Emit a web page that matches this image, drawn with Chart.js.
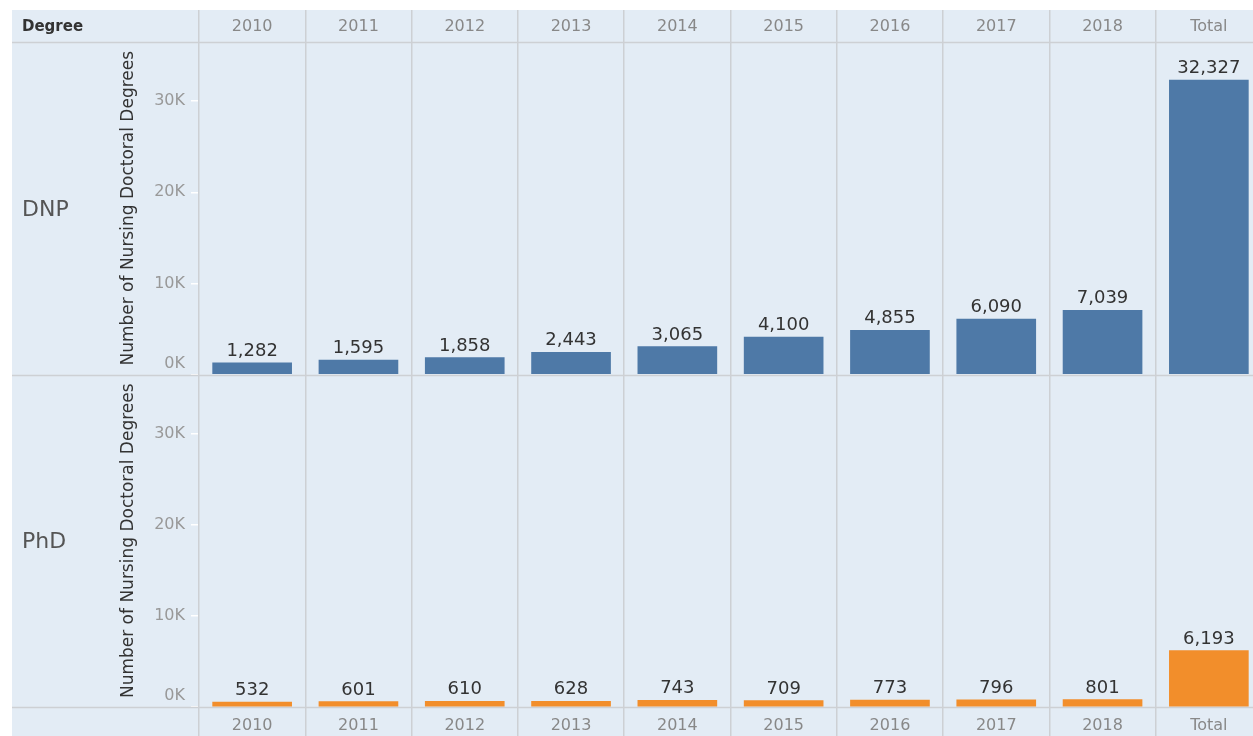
<!DOCTYPE html>
<html><head><meta charset="utf-8">
<script src="https://cdn.jsdelivr.net/npm/chart.js@4.4.1/dist/chart.umd.min.js"></script>
<style>html,body{margin:0;padding:0;background:#fff;overflow:hidden;}#wrap{width:1262px;height:736px;}</style>
</head><body><div id="wrap"><canvas id="c" width="1262" height="736"></canvas></div>
<script>
const categories = ['2010','2011','2012','2013','2014','2015','2016','2017','2018','Total'];
const dnpValues = [1282,1595,1858,2443,3065,4100,4855,6090,7039,32327];
const phdValues = [532,601,610,628,743,709,773,796,801,6193];
const rowLabels = ['DNP','PhD'];
const yTickValues = [0,10000,20000,30000];
const yMax = 36500;
const headerLabel = 'Degree';
const axisTitle = 'Number of Nursing Doctoral Degrees';

const BG = '#e3ecf5';
const LINE = '#cdd0d4';
const FONT = 'DejaVu Sans';
Chart.defaults.font.family = FONT;

const frame = {
  id: 'frame',
  beforeDraw(chart) {
    const ctx = chart.ctx;
    ctx.save();
    ctx.fillStyle = '#fff';
    ctx.fillRect(0, 0, chart.width, chart.height);
    ctx.fillStyle = BG;
    ctx.fillRect(12, 10, chart.width - 12, chart.height - 10);
    ctx.restore();
  },
  beforeDatasetsDraw(chart) {
    const ctx = chart.ctx;
    const top = chart.scales.yDNP, bot = chart.scales.yPhD;
    const ys = [chart.chartArea.top, top.bottom, chart.chartArea.bottom];
    ctx.save();
    ctx.strokeStyle = LINE;
    ctx.lineWidth = 1.5;
    ys.forEach(y => {
      ctx.beginPath();
      ctx.moveTo(12, Math.round(y) + 0.5);
      ctx.lineTo(chart.width, Math.round(y) + 0.5);
      ctx.stroke();
    });
    ctx.fillStyle = '#333';
    ctx.font = 'bold 15px "' + FONT + '"';
    ctx.textBaseline = 'middle';
    ctx.textAlign = 'left';
    ctx.fillText(headerLabel, 22, (10 + chart.chartArea.top) / 2 + 1);
    ctx.fillStyle = '#555';
    ctx.font = '22px "' + FONT + '"';
    [top, bot].forEach((s, i) => {
      ctx.fillText(rowLabels[i], 22, (s.top + s.bottom) / 2 + 2);
    });
    ctx.restore();
  },
  afterDatasetsDraw(chart) {
    const ctx = chart.ctx;
    ctx.save();
    ctx.fillStyle = '#333';
    ctx.font = '18px "' + FONT + '"';
    ctx.textAlign = 'center';
    ctx.textBaseline = 'alphabetic';
    chart.data.datasets.forEach((ds, di) => {
      const meta = chart.getDatasetMeta(di);
      meta.data.forEach((bar, i) => {
        ctx.fillText(ds.data[i].toLocaleString('en-US'), bar.x, bar.y - 7);
      });
    });
    ctx.restore();
  }
};

function yAxis() {
  return {
    type: 'linear',
    position: 'left',
    stack: 'panels',
    stackWeight: 1,
    min: 0,
    max: yMax,
    afterBuildTicks: s => { s.ticks = yTickValues.map(v => ({value: v})); },
    afterFit: s => { s.width = 87; },
    border: {display: false},
    grid: {display: true, drawOnChartArea: false, drawTicks: true, tickLength: 8, tickColor: '#ffffff', lineWidth: 1.5},
    ticks: {
      padding: 6,
      color: '#999',
      font: {size: 16, lineHeight: 1.35},
      callback: v => v === 0 ? ['0K', ''] : (v / 1000) + 'K'
    },
    title: {display: true, text: axisTitle, color: '#333', font: {size: 17}, padding: {top: 6, bottom: 0}}
  };
}

new Chart(document.getElementById('c'), {
  type: 'bar',
  data: {
    labels: categories,
    datasets: [
      {label: 'DNP', data: dnpValues, yAxisID: 'yDNP', xAxisID: 'x', backgroundColor: '#4e79a7', barThickness: 79, grouped: false},
      {label: 'PhD', data: phdValues, yAxisID: 'yPhD', xAxisID: 'x', backgroundColor: '#f28e2b', barThickness: 79, grouped: false}
    ]
  },
  options: {
    responsive: false,
    animation: false,
    layout: {padding: {left: 112, top: 10, right: 0, bottom: 0}},
    plugins: {legend: {display: false}, tooltip: {enabled: false}},
    scales: {
      x2: {
        type: 'category',
        position: 'top',
        offset: true,
        afterFit: s => { s.height = 32; },
        border: {display: false},
        grid: {offset: true, drawOnChartArea: false, drawTicks: true, tickLength: 32, color: LINE, tickColor: LINE, lineWidth: 1.5},
        ticks: {padding: -26, color: '#888', font: {size: 16}}
      },
      yPhD: yAxis(),
      yDNP: yAxis(),
      x: {
        type: 'category',
        position: 'bottom',
        offset: true,
        afterFit: s => { s.height = 29; },
        border: {display: false},
        grid: {offset: true, drawOnChartArea: true, drawTicks: true, tickLength: 29, color: LINE, tickColor: LINE, lineWidth: 1.5},
        ticks: {padding: -20, color: '#888', font: {size: 16}}
      }
    }
  },
  plugins: [frame]
});
</script>
</body></html>
